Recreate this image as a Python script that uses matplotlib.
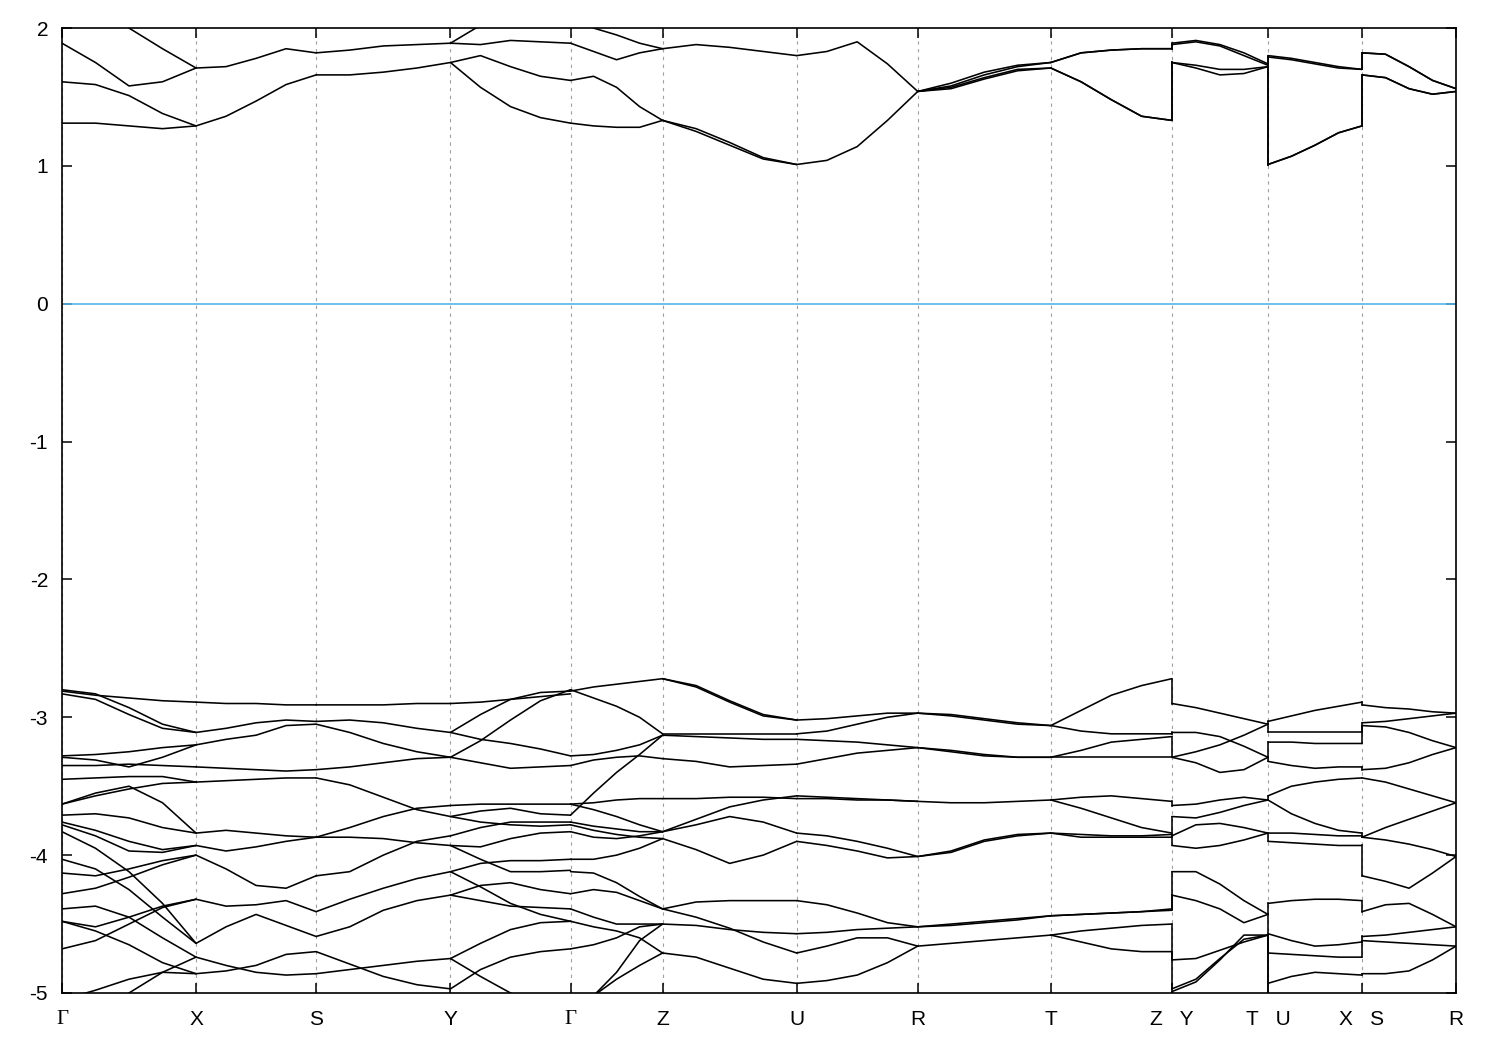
import numpy as np
import matplotlib
matplotlib.use('Agg')
import matplotlib.pyplot as plt

plt.rcParams['font.family'] = ['Liberation Sans', 'DejaVu Sans']
plt.rcParams['axes.unicode_minus'] = False

# k-path: positions of the high-symmetry points and their labels
K_POS = [0.0, 0.134, 0.254, 0.3883, 0.5083, 0.6003, 0.7343, 0.8553,
         0.9883, 1.1093, 1.2053, 1.2993, 1.3933]
K_LABELS = ['Γ', 'X', 'S', 'Y', 'Γ', 'Z', 'U', 'R', 'T', 'Z   Y', 'T   U', 'X   S', 'R']

# each band piece: energy (eV) at 0, 1/4, 1/2, 3/4 and 1 of the segment
# ---- conduction bands ----
gx_up = [[2.30, 2.15, 2.00, 1.85, 1.71],
         [1.89, 1.75, 1.58, 1.61, 1.71],
         [1.61, 1.59, 1.51, 1.38, 1.29],
         [1.31, 1.31, 1.29, 1.27, 1.29]]
xs_up = [[1.71, 1.72, 1.78, 1.85, 1.82],
         [1.29, 1.36, 1.47, 1.59, 1.66]]
sy_up = [[1.82, 1.84, 1.87, 1.88, 1.89],
         [1.66, 1.66, 1.68, 1.71, 1.75]]
yg_up = [[1.89, 2.02, 2.15, 2.25, 2.30],
         [1.89, 1.88, 1.91, 1.90, 1.89],
         [1.75, 1.80, 1.72, 1.65, 1.62],
         [1.75, 1.57, 1.43, 1.35, 1.31]]
gz_up = [[2.15, 2.00, 1.95, 1.89, 1.85],
         [1.89, 1.83, 1.77, 1.82, 1.85],
         [1.62, 1.65, 1.57, 1.43, 1.33],
         [1.31, 1.29, 1.28, 1.28, 1.33]]
zu_up = [[1.85, 1.88, 1.86, 1.83, 1.80],
         [1.33, 1.27, 1.17, 1.06, 1.01],
         [1.33, 1.25, 1.15, 1.05, 1.01]]
ur_up = [[1.80, 1.83, 1.90, 1.74, 1.54],
         [1.01, 1.04, 1.14, 1.33, 1.54]]
rt_up = [[1.54, 1.60, 1.68, 1.73, 1.75],
         [1.54, 1.58, 1.66, 1.72, 1.75],
         [1.54, 1.57, 1.64, 1.70, 1.71],
         [1.54, 1.56, 1.63, 1.69, 1.71]]
tz_up = [[1.75, 1.82, 1.84, 1.85, 1.85],
         [1.75, 1.82, 1.84, 1.85, 1.85],
         [1.71, 1.61, 1.48, 1.36, 1.33],
         [1.71, 1.61, 1.48, 1.36, 1.33]]
yt_up = [[1.89, 1.91, 1.88, 1.82, 1.74],
         [1.88, 1.90, 1.87, 1.80, 1.73],
         [1.75, 1.73, 1.70, 1.70, 1.72],
         [1.75, 1.71, 1.66, 1.67, 1.72]]
ux_up = [[1.80, 1.78, 1.75, 1.72, 1.70],
         [1.79, 1.77, 1.74, 1.71, 1.70],
         [1.01, 1.07, 1.15, 1.24, 1.29],
         [1.01, 1.07, 1.15, 1.24, 1.29]]
sr_up = [[1.82, 1.81, 1.72, 1.62, 1.56],
         [1.82, 1.81, 1.72, 1.62, 1.56],
         [1.66, 1.64, 1.56, 1.52, 1.54],
         [1.66, 1.64, 1.56, 1.52, 1.54]]

# ---- valence bands ----
gx_lo = [[-2.81, -2.84, -2.86, -2.88, -2.89],
         [-2.80, -2.83, -2.93, -3.05, -3.11],
         [-2.83, -2.87, -2.98, -3.08, -3.11],
         [-3.28, -3.27, -3.25, -3.22, -3.20],
         [-3.29, -3.31, -3.36, -3.29, -3.20],
         [-3.35, -3.35, -3.34, -3.35, -3.36],
         [-3.45, -3.44, -3.43, -3.43, -3.47],
         [-3.63, -3.57, -3.52, -3.48, -3.47],
         [-3.63, -3.55, -3.50, -3.62, -3.84],
         [-3.71, -3.70, -3.73, -3.80, -3.84],
         [-3.76, -3.82, -3.90, -3.96, -3.93],
         [-3.78, -3.86, -3.97, -3.98, -3.93],
         [-3.83, -3.95, -4.12, -4.35, -4.64],
         [-4.03, -4.10, -4.25, -4.45, -4.64],
         [-4.13, -4.15, -4.10, -4.04, -4.00],
         [-4.28, -4.24, -4.16, -4.07, -4.00],
         [-4.39, -4.37, -4.45, -4.60, -4.74],
         [-4.48, -4.52, -4.45, -4.37, -4.32],
         [-4.48, -4.55, -4.65, -4.78, -4.86],
         [-4.68, -4.62, -4.50, -4.38, -4.32],
         [-5.05, -4.98, -4.90, -4.85, -4.86],
         [-5.30, -5.15, -5.00, -4.85, -4.74]]
xs_lo = [[-2.89, -2.90, -2.90, -2.91, -2.91],
         [-3.11, -3.08, -3.04, -3.02, -3.03],
         [-3.20, -3.16, -3.13, -3.06, -3.05],
         [-3.36, -3.37, -3.38, -3.39, -3.38],
         [-3.47, -3.46, -3.45, -3.44, -3.44],
         [-3.84, -3.82, -3.84, -3.86, -3.87],
         [-3.93, -3.97, -3.94, -3.90, -3.87],
         [-4.00, -4.10, -4.22, -4.24, -4.15],
         [-4.32, -4.37, -4.36, -4.33, -4.41],
         [-4.64, -4.52, -4.43, -4.51, -4.59],
         [-4.74, -4.80, -4.85, -4.87, -4.86],
         [-4.86, -4.84, -4.80, -4.72, -4.70]]
sy_lo = [[-2.91, -2.91, -2.91, -2.90, -2.90],
         [-3.03, -3.02, -3.04, -3.08, -3.11],
         [-3.05, -3.11, -3.19, -3.25, -3.29],
         [-3.38, -3.36, -3.33, -3.30, -3.29],
         [-3.44, -3.49, -3.58, -3.67, -3.72],
         [-3.87, -3.87, -3.88, -3.91, -3.93],
         [-3.87, -3.80, -3.72, -3.66, -3.64],
         [-4.15, -4.12, -4.00, -3.90, -3.86],
         [-4.41, -4.32, -4.24, -4.17, -4.12],
         [-4.59, -4.52, -4.40, -4.33, -4.29],
         [-4.70, -4.79, -4.88, -4.94, -4.97],
         [-4.86, -4.83, -4.80, -4.77, -4.75]]
yg_lo = [[-2.90, -2.89, -2.87, -2.85, -2.83],
         [-3.11, -2.98, -2.87, -2.82, -2.81],
         [-3.11, -3.16, -3.19, -3.23, -3.28],
         [-3.29, -3.17, -3.02, -2.88, -2.80],
         [-3.29, -3.33, -3.37, -3.36, -3.35],
         [-3.64, -3.63, -3.63, -3.63, -3.63],
         [-3.72, -3.68, -3.66, -3.70, -3.71],
         [-3.72, -3.76, -3.78, -3.79, -3.78],
         [-3.86, -3.80, -3.76, -3.76, -3.76],
         [-3.93, -3.94, -3.88, -3.84, -3.83],
         [-3.93, -4.03, -4.12, -4.12, -4.11],
         [-4.12, -4.06, -4.04, -4.04, -4.03],
         [-4.12, -4.23, -4.35, -4.43, -4.48],
         [-4.29, -4.22, -4.20, -4.25, -4.28],
         [-4.29, -4.33, -4.37, -4.38, -4.39],
         [-4.75, -4.64, -4.54, -4.49, -4.48],
         [-4.97, -4.83, -4.74, -4.70, -4.68],
         [-4.75, -4.88, -5.00, -5.10, -5.15]]
gz_lo = [[-2.81, -2.78, -2.76, -2.74, -2.72],
         [-2.80, -2.86, -2.92, -3.00, -3.12],
         [-3.28, -3.27, -3.24, -3.20, -3.13],
         [-3.35, -3.31, -3.29, -3.28, -3.30],
         [-3.71, -3.55, -3.40, -3.27, -3.13],
         [-3.63, -3.62, -3.60, -3.59, -3.59],
         [-3.63, -3.67, -3.72, -3.78, -3.83],
         [-3.76, -3.79, -3.81, -3.83, -3.83],
         [-3.78, -3.82, -3.85, -3.87, -3.88],
         [-3.83, -3.87, -3.88, -3.86, -3.83],
         [-4.03, -4.03, -4.00, -3.95, -3.88],
         [-4.12, -4.13, -4.20, -4.30, -4.39],
         [-4.28, -4.25, -4.27, -4.33, -4.39],
         [-4.39, -4.45, -4.50, -4.50, -4.50],
         [-4.48, -4.52, -4.55, -4.60, -4.71],
         [-4.68, -4.65, -4.60, -4.52, -4.50],
         [-5.40, -5.02, -4.85, -4.62, -4.50],
         [-5.60, -5.02, -4.90, -4.80, -4.71]]
zu_lo = [[-2.72, -2.78, -2.89, -2.99, -3.02],
         [-2.72, -2.77, -2.88, -2.98, -3.02],
         [-3.12, -3.12, -3.12, -3.12, -3.12],
         [-3.13, -3.14, -3.15, -3.16, -3.16],
         [-3.30, -3.32, -3.36, -3.35, -3.34],
         [-3.59, -3.59, -3.58, -3.58, -3.59],
         [-3.83, -3.74, -3.65, -3.60, -3.57],
         [-3.83, -3.78, -3.72, -3.76, -3.84],
         [-3.88, -3.96, -4.06, -4.00, -3.90],
         [-4.39, -4.34, -4.33, -4.33, -4.33],
         [-4.39, -4.45, -4.53, -4.63, -4.71],
         [-4.50, -4.51, -4.54, -4.56, -4.57],
         [-4.71, -4.74, -4.82, -4.90, -4.93]]
ur_lo = [[-3.02, -3.01, -2.99, -2.97, -2.97],
         [-3.12, -3.10, -3.05, -3.00, -2.97],
         [-3.16, -3.17, -3.18, -3.20, -3.22],
         [-3.34, -3.30, -3.26, -3.24, -3.22],
         [-3.59, -3.59, -3.60, -3.60, -3.61],
         [-3.57, -3.58, -3.59, -3.60, -3.61],
         [-3.84, -3.86, -3.90, -3.95, -4.01],
         [-3.90, -3.93, -3.97, -4.02, -4.01],
         [-4.33, -4.36, -4.42, -4.49, -4.52],
         [-4.57, -4.56, -4.54, -4.53, -4.52],
         [-4.71, -4.66, -4.60, -4.60, -4.66],
         [-4.93, -4.91, -4.87, -4.78, -4.66]]
rt_lo = [[-2.97, -2.98, -3.01, -3.04, -3.06],
         [-2.97, -2.99, -3.02, -3.05, -3.06],
         [-3.22, -3.24, -3.27, -3.29, -3.29],
         [-3.22, -3.25, -3.28, -3.29, -3.29],
         [-3.61, -3.62, -3.62, -3.61, -3.60],
         [-4.01, -3.97, -3.89, -3.85, -3.84],
         [-4.01, -3.98, -3.90, -3.86, -3.84],
         [-4.52, -4.50, -4.48, -4.46, -4.44],
         [-4.52, -4.51, -4.49, -4.47, -4.44],
         [-4.66, -4.64, -4.62, -4.60, -4.58]]
tz_lo = [[-3.06, -2.95, -2.84, -2.77, -2.72],
         [-3.06, -3.10, -3.12, -3.12, -3.12],
         [-3.29, -3.24, -3.18, -3.16, -3.14],
         [-3.29, -3.29, -3.29, -3.29, -3.29],
         [-3.60, -3.58, -3.57, -3.59, -3.61],
         [-3.60, -3.66, -3.73, -3.80, -3.84],
         [-3.84, -3.87, -3.87, -3.87, -3.87],
         [-3.84, -3.85, -3.86, -3.86, -3.85],
         [-4.44, -4.43, -4.42, -4.41, -4.39],
         [-4.44, -4.43, -4.42, -4.41, -4.40],
         [-4.58, -4.55, -4.53, -4.51, -4.50],
         [-4.58, -4.63, -4.68, -4.70, -4.70],
         [-5.30, -5.30, -5.30, -5.30, -5.30],
         [-5.40, -5.40, -5.40, -5.40, -5.40]]
yt_lo = [[-2.90, -2.93, -2.97, -3.01, -3.05],
         [-3.11, -3.11, -3.14, -3.21, -3.29],
         [-3.29, -3.25, -3.20, -3.13, -3.05],
         [-3.29, -3.33, -3.40, -3.38, -3.29],
         [-3.64, -3.63, -3.60, -3.58, -3.60],
         [-3.72, -3.73, -3.69, -3.64, -3.60],
         [-3.86, -3.78, -3.77, -3.80, -3.84],
         [-3.93, -3.95, -3.93, -3.89, -3.84],
         [-4.12, -4.12, -4.21, -4.33, -4.43],
         [-4.29, -4.33, -4.39, -4.49, -4.43],
         [-4.76, -4.75, -4.69, -4.63, -4.58],
         [-4.97, -4.90, -4.75, -4.61, -4.58],
         [-4.99, -4.92, -4.76, -4.58, -4.58]]
ux_lo = [[-3.03, -2.99, -2.95, -2.92, -2.89],
         [-3.11, -3.11, -3.11, -3.11, -3.11],
         [-3.18, -3.18, -3.19, -3.19, -3.19],
         [-3.32, -3.35, -3.37, -3.36, -3.36],
         [-3.57, -3.50, -3.47, -3.45, -3.44],
         [-3.60, -3.70, -3.77, -3.82, -3.84],
         [-3.84, -3.84, -3.85, -3.86, -3.86],
         [-3.90, -3.91, -3.92, -3.93, -3.93],
         [-4.35, -4.33, -4.32, -4.32, -4.33],
         [-4.57, -4.62, -4.66, -4.65, -4.63],
         [-4.71, -4.72, -4.73, -4.74, -4.74],
         [-4.93, -4.88, -4.85, -4.86, -4.87],
         [-5.30, -5.30, -5.30, -5.30, -5.30]]
sr_lo = [[-2.91, -2.93, -2.94, -2.96, -2.97],
         [-3.04, -3.03, -3.01, -2.99, -2.97],
         [-3.06, -3.07, -3.11, -3.17, -3.22],
         [-3.38, -3.37, -3.33, -3.27, -3.22],
         [-3.44, -3.47, -3.52, -3.57, -3.62],
         [-3.87, -3.80, -3.74, -3.68, -3.62],
         [-3.87, -3.89, -3.92, -3.96, -4.01],
         [-4.15, -4.19, -4.24, -4.13, -4.01],
         [-4.41, -4.36, -4.35, -4.43, -4.52],
         [-4.59, -4.58, -4.56, -4.54, -4.52],
         [-4.62, -4.63, -4.64, -4.65, -4.66],
         [-4.86, -4.86, -4.84, -4.76, -4.66],
         [-5.30, -5.30, -5.30, -5.30, -5.30]]

# segment = (start point index, end point index, upper bands, lower bands)
SEGMENTS = [(0, 1, gx_up, gx_lo), (1, 2, xs_up, xs_lo), (2, 3, sy_up, sy_lo),
            (3, 4, yg_up, yg_lo), (4, 5, gz_up, gz_lo), (5, 6, zu_up, zu_lo),
            (6, 7, ur_up, ur_lo), (7, 8, rt_up, rt_lo), (8, 9, tz_up, tz_lo),
            (9, 10, yt_up, yt_lo), (10, 11, ux_up, ux_lo), (11, 12, sr_up, sr_lo)]
FRAC = np.array([0.0, 0.25, 0.5, 0.75, 1.0])

fig = plt.figure(figsize=(15, 10.5), dpi=100)
ax = fig.add_axes([0.0413, 0.0543, 0.9294, 0.919])

lw = 1.15
for i0, i1, up, lo in SEGMENTS:
    k = K_POS[i0] + FRAC * (K_POS[i1] - K_POS[i0])
    for band in up + lo:
        ax.plot(k, band, color='black', lw=lw, solid_joinstyle='round',
                solid_capstyle='round')

# vertical jumps at the path discontinuities (Z|Y, T|U, X|S)
for n in range(8, 11):
    a = SEGMENTS[n]
    b = SEGMENTS[n + 1]
    kx = K_POS[a[1]]
    for g in (2, 3):
        ends = sorted([c[-1] for c in a[g]], reverse=True)
        starts = sorted([c[0] for c in b[g]], reverse=True)
        for e, s in zip(ends, starts):
            ax.plot([kx, kx], [e, s], color='black', lw=lw)

ax.axhline(0, color='#56b4e9', lw=1.2, zorder=1)

ax.set_xlim(K_POS[0], K_POS[-1])
ax.set_ylim(-5, 2)
ax.set_xticks(K_POS)
ax.set_xticklabels(K_LABELS)
ax.set_yticks(np.arange(-5, 3, 1))
for lbl in ax.get_xticklabels():
    if lbl.get_text() == 'Γ':
        lbl.set_fontfamily('Liberation Serif')

ax.xaxis.grid(True, linestyle=(0, (3, 4)), color='#a0a0a0', lw=0.8)
ax.set_axisbelow(True)
ax.tick_params(axis='both', direction='in', top=True, right=True,
               length=7.5, width=1.1, labelsize=15)
ax.tick_params(axis='x', pad=12)
ax.tick_params(axis='y', pad=10)
for sp in ax.spines.values():
    sp.set_linewidth(1.2)

fig.savefig('out.png', dpi=100)
